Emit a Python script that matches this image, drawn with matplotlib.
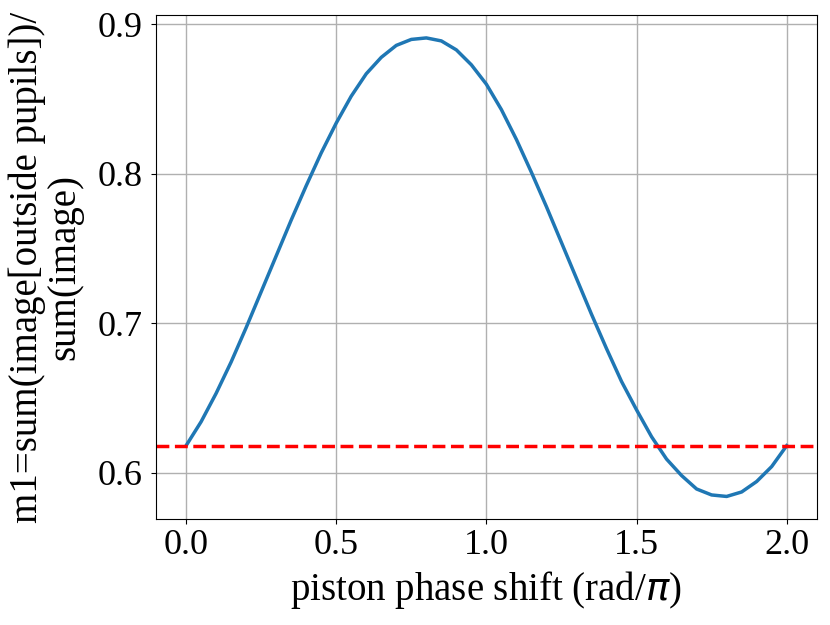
import matplotlib
matplotlib.use("Agg")
import matplotlib.pyplot as plt

# piston phase shift in units of pi, and metric m1
phase = [0.00, 0.05, 0.10, 0.15, 0.20, 0.25, 0.30, 0.35, 0.40, 0.45,
         0.50, 0.55, 0.60, 0.65, 0.70, 0.75, 0.80, 0.85, 0.90, 0.95,
         1.00, 1.05, 1.10, 1.15, 1.20, 1.25, 1.30, 1.35, 1.40, 1.45,
         1.50, 1.55, 1.60, 1.65, 1.70, 1.75, 1.80, 1.85, 1.90, 1.95, 2.00]
m1 = [0.618, 0.634, 0.653, 0.674, 0.697, 0.721, 0.745, 0.769, 0.792, 0.814,
      0.834, 0.852, 0.867, 0.878, 0.886, 0.890, 0.891, 0.889, 0.883, 0.873,
      0.860, 0.843, 0.823, 0.801, 0.778, 0.754, 0.730, 0.706, 0.683, 0.661,
      0.642, 0.624, 0.609, 0.598, 0.589, 0.585, 0.584, 0.587, 0.594, 0.604, 0.618]
m1_ref = 0.6175   # value with no piston

plt.rcParams["font.family"] = ["Liberation Serif", "DejaVu Serif"]
plt.rcParams["font.size"] = 26

fig = plt.figure(figsize=(8.3, 6.25), dpi=100)
ax = fig.add_axes([0.188, 0.169, 0.796, 0.807])

ax.plot(phase, m1, color="#1f77b4", linewidth=2.5)
ax.axhline(m1_ref, color="red", linestyle="--", linewidth=2.5)

ax.set_xticks([0.0, 0.5, 1.0, 1.5, 2.0])
ax.set_yticks([0.6, 0.7, 0.8, 0.9])
ax.grid(True, color="#b0b0b0", linewidth=1.0)
ax.tick_params(labelsize=26)
ax.tick_params(axis="y", pad=6.5)

ax.set_xlabel(r"piston phase shift (rad/$\pi$)", fontsize=28, labelpad=5)
ax.set_ylabel("m1=sum(image[outside pupils])/\nsum(image)", fontsize=28,
              linespacing=1.0, labelpad=10)

fig.savefig("out.png", dpi=100)
